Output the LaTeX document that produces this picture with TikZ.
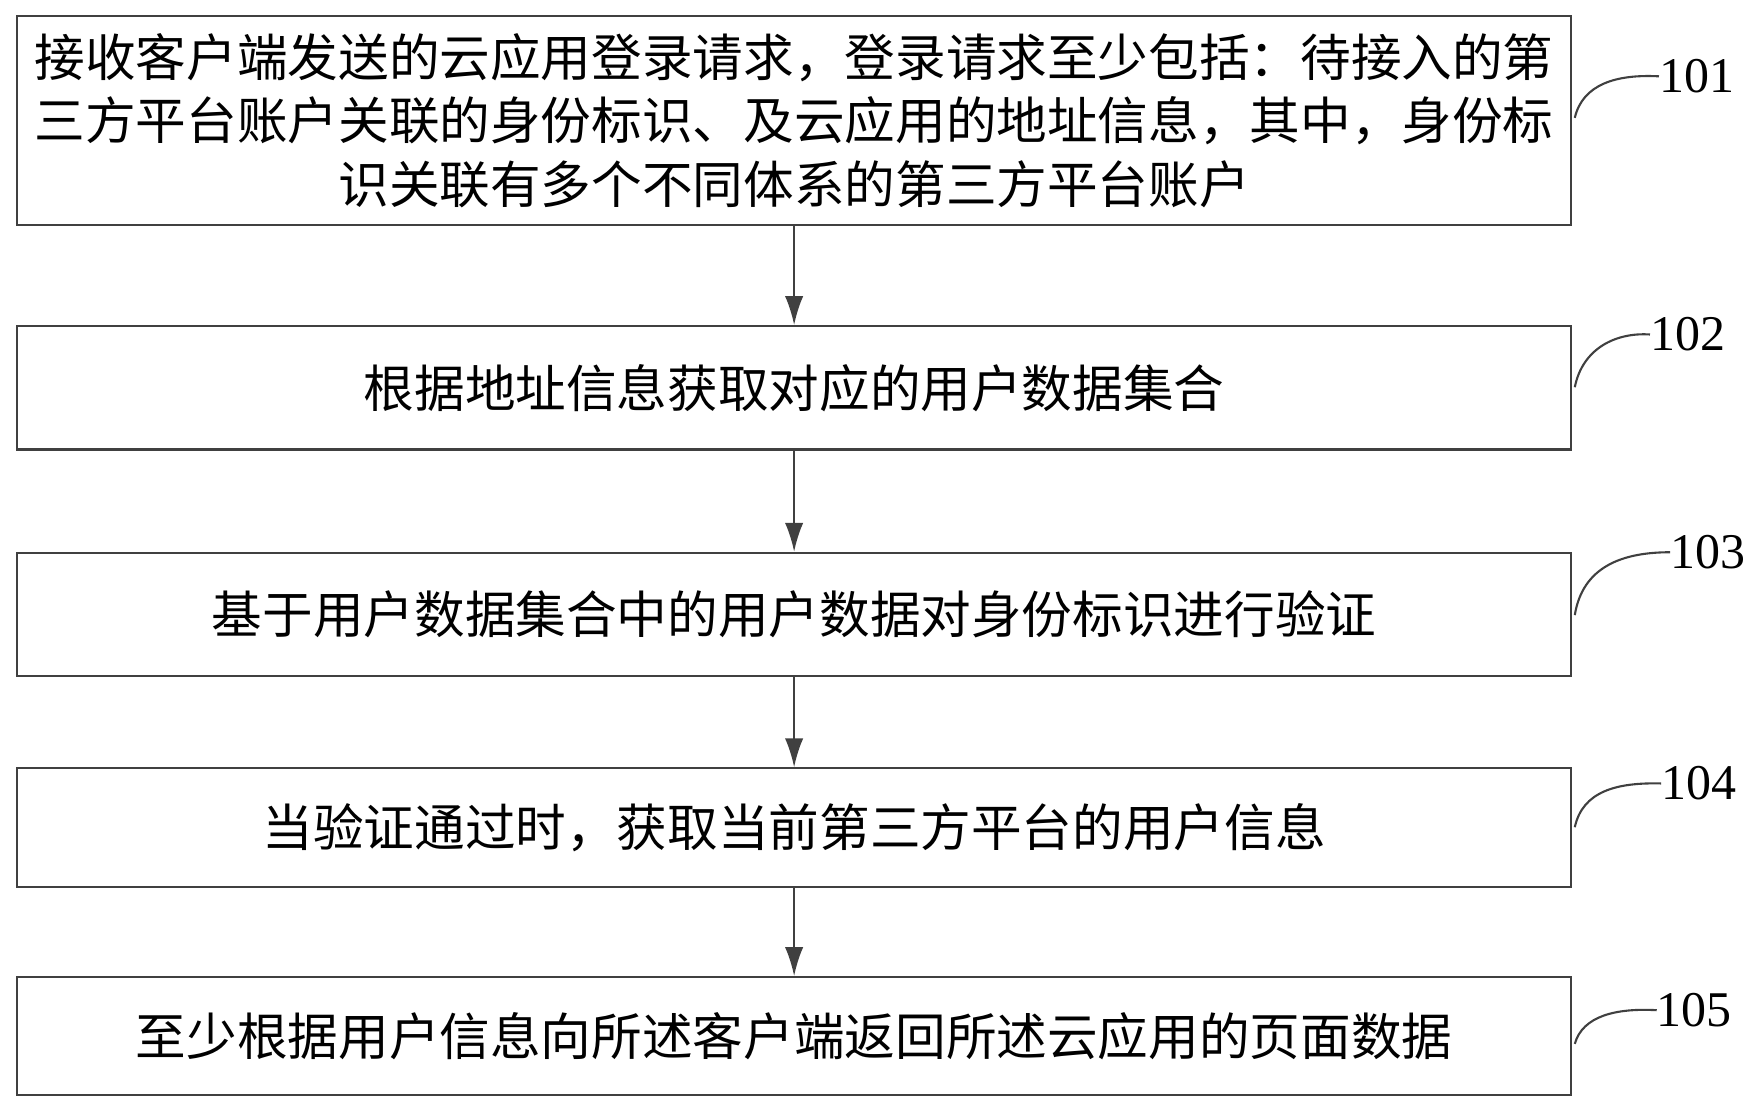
\documentclass[tikz,border=0pt]{standalone}
\usepackage{fontspec}
\setmainfont{Liberation Serif}
\newfontfamily\cjk{Noto Sans CJK SC}[Scale=1]
\begin{document}
\begin{tikzpicture}[x=0.03cm,y=-0.03cm,
  box/.style={draw=black!75,line width=1.6pt,inner sep=0pt,align=center,font=\cjk\fontsize{38.5}{48}\selectfont},
  arr/.style={draw=black!75,line width=1.6pt,-{Latex[length=22pt,width=14pt]}},
  lab/.style={font=\fontsize{38}{40}\selectfont,anchor=west,inner sep=0pt},
  crv/.style={draw=black!75,line width=1.6pt}]
\usetikzlibrary{arrows.meta}
\useasboundingbox (0,0) rectangle (1560,987);
\node[box,minimum width=1385*0.03cm,minimum height=186*0.03cm] (b1) at (707.5,107.5) {接收客户端发送的云应用登录请求，登录请求至少包括：待接入的第\\三方平台账户关联的身份标识、及云应用的地址信息，其中，身份标\\识关联有多个不同体系的第三方平台账户};
\node[box,minimum width=1385*0.03cm,minimum height=110*0.03cm] (b2) at (707.5,345.5) {根据地址信息获取对应的用户数据集合};
\node[box,minimum width=1385*0.03cm,minimum height=110*0.03cm] (b3) at (707.5,547.5) {基于用户数据集合中的用户数据对身份标识进行验证};
\node[box,minimum width=1385*0.03cm,minimum height=106*0.03cm] (b4) at (707.5,737.5) {当验证通过时，获取当前第三方平台的用户信息};
\node[box,minimum width=1385*0.03cm,minimum height=105*0.03cm] (b5) at (707.5,923) {至少根据用户信息向所述客户端返回所述云应用的页面数据};
\draw[arr] (b1) -- (b2);
\draw[arr] (b2) -- (b3);
\draw[arr] (b3) -- (b4);
\draw[arr] (b4) -- (b5);
\node[lab] (l1) at (1478,68) {101};
\node[lab] (l2) at (1470,298) {102};
\node[lab] (l3) at (1488,492) {103};
\node[lab] (l4) at (1480,698) {104};
\node[lab] (l5) at (1476,900) {105};
\coordinate (c1) at (1403,105);
\coordinate (c2) at (1403,345);
\coordinate (c3) at (1403,548);
\coordinate (c4) at (1403,737);
\coordinate (c5) at (1403,930);
\draw[crv] (c1) .. controls (1410,75) and (1440,66) .. (l1.west);
\draw[crv] (c2) .. controls (1410,310) and (1440,296) .. (l2.west);
\draw[crv] (c3) .. controls (1410,505) and (1445,492) .. (l3.west);
\draw[crv] (c4) .. controls (1410,705) and (1440,697) .. (l4.west);
\draw[crv] (c5) .. controls (1410,905) and (1440,898) .. (l5.west);
\end{tikzpicture}
\end{document}
